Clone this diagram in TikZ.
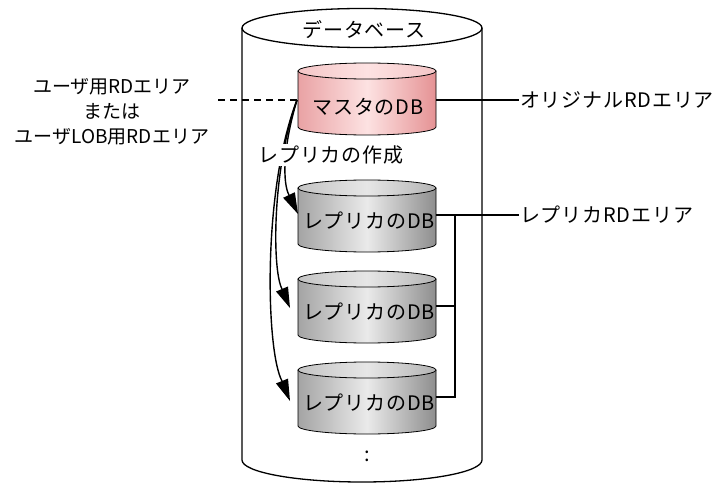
\documentclass[tikz,border=0pt]{standalone}
\usepackage{fontspec}
\setmainfont{Noto Sans CJK JP}
\newfontfamily\lsfont{Noto Sans CJK JP}[LetterSpace=4]
\usetikzlibrary{calc}
\definecolor{pkL}{HTML}{E9A2A4}
\definecolor{pkM}{HTML}{FDE2E2}
\definecolor{pkR}{HTML}{E59294}
\definecolor{pkT}{HTML}{F4C6C7}
\definecolor{gyL}{HTML}{A4A4A4}
\definecolor{gyM}{HTML}{EAEAEA}
\definecolor{gyR}{HTML}{8E8E8E}
\definecolor{gyTL}{HTML}{C4C4C4}
\definecolor{gyTM}{HTML}{E6E6E6}
\definecolor{gyTR}{HTML}{B4B4B4}
\tikzset{
  lbl/.style={inner sep=1pt},
  conn/.style={line width=1.3pt},
  arrline/.style={line width=1.4pt},
  pinkbody/.style={left color=pkL,right color=pkR,middle color=pkM},
  pinktop/.style={left color=pkT,right color=pkT,middle color=pkM},
  graybody/.style={left color=gyL,right color=gyR,middle color=gyM},
  graytop/.style={left color=gyTL,right color=gyTR,middle color=gyTM},
}
% #1 top-centre y, #2 body style, #3 top style
\newcommand{\mydbcyl}[3]{%
  \path[#2] (298,#1) -- (298,{#1+56}) arc[start angle=180,end angle=0,x radius=69,y radius=8] -- (436,#1) -- cycle;
  \draw[line width=0.8pt] (298,#1) -- (298,{#1+56}) arc[start angle=180,end angle=0,x radius=69,y radius=8] -- (436,#1);
  \draw[line width=0.8pt,#3] (367,#1) ellipse[x radius=69,y radius=8];
}
% arrow head: #1 base centre, #2 tip
\newcommand{\myhead}[2]{%
  \fill (#2) -- ($(#1)!6.5pt!90:(#2)$) -- ($(#1)!6.5pt!-90:(#2)$) -- cycle;
}
\begin{document}
\begin{tikzpicture}[x=1pt,y=-1pt,font=\lsfont\fontsize{20}{23}\selectfont]
\useasboundingbox (0,0) rectangle (715,484);
% big database cylinder
\draw[line width=1.3pt,fill=white] (242,28) -- (242,460) arc[start angle=180,end angle=0,x radius=120,y radius=22] -- (482,28);
\draw[line width=1.3pt,fill=white] (362,28) ellipse[x radius=120,y radius=19.5];
\node[lbl] (db) at (364,30) {データベース};
% cylinders
\mydbcyl{71}{pinkbody}{pinktop}
\node[lbl] (master) at (368,107) {マスタのDB};
\mydbcyl{188}{graybody}{graytop}
\node[lbl] (rep1) at (369,221) {レプリカのDB};
\mydbcyl{279}{graybody}{graytop}
\node[lbl] (rep2) at (369,312) {レプリカのDB};
\mydbcyl{370}{graybody}{graytop}
\node[lbl] (rep3) at (369,403) {レプリカのDB};
\node[lbl] (dots) at (367,456) {:};
% coordinates
\coordinate (mW) at (298,100);
\coordinate (mE) at (436,100);
\coordinate (r1E) at (436,215);
\coordinate (r2E) at (436,306);
\coordinate (r3E) at (436,397);
\coordinate (bj1) at (455,215);
\coordinate (bj3) at (455,397);
\coordinate (src) at (297,100);
\coordinate (b1) at (289,195);
\coordinate (t1) at (298,214);
\coordinate (b2) at (282,289);
\coordinate (t2) at (290,308);
\coordinate (b3) at (282,381);
\coordinate (t3) at (290,401);
\coordinate (dl) at (218,100);
% labels right
\node[lbl,anchor=west] (orig) at (519,100) {オリジナルRDエリア};
\node[lbl,anchor=west] (repl) at (519,215) {レプリカRDエリア};
\draw[conn] (mE) -- (orig.west);
\draw[conn] (r1E) -- (repl.west);
\draw[conn] (r2E) -- (r2E -| bj1);
\draw[conn] (r3E) -- (bj3) -- (bj1);
% left label
\node[lbl,align=center,font=\rmfamily\fontsize{19}{25}\selectfont] (user) at (112,112) {ユーザ用RDエリア\\または\\ユーザLOB用RDエリア};
\draw[conn,dashed,dash pattern=on 7pt off 5pt] (dl) -- (mW);
% replication arrows
\draw[arrline] (src) .. controls (282,150) and (283,184) .. (b1);
\myhead{b1}{t1}
\draw[arrline] (src) .. controls (272,170) and (272,270) .. (b2);
\myhead{b2}{t2}
\draw[arrline] (src) .. controls (262,190) and (266,352) .. (b3);
\myhead{b3}{t3}
\node[lbl,fill=white,inner ysep=2pt] (mk) at (331,155) {レプリカの作成};
\end{tikzpicture}
\end{document}
